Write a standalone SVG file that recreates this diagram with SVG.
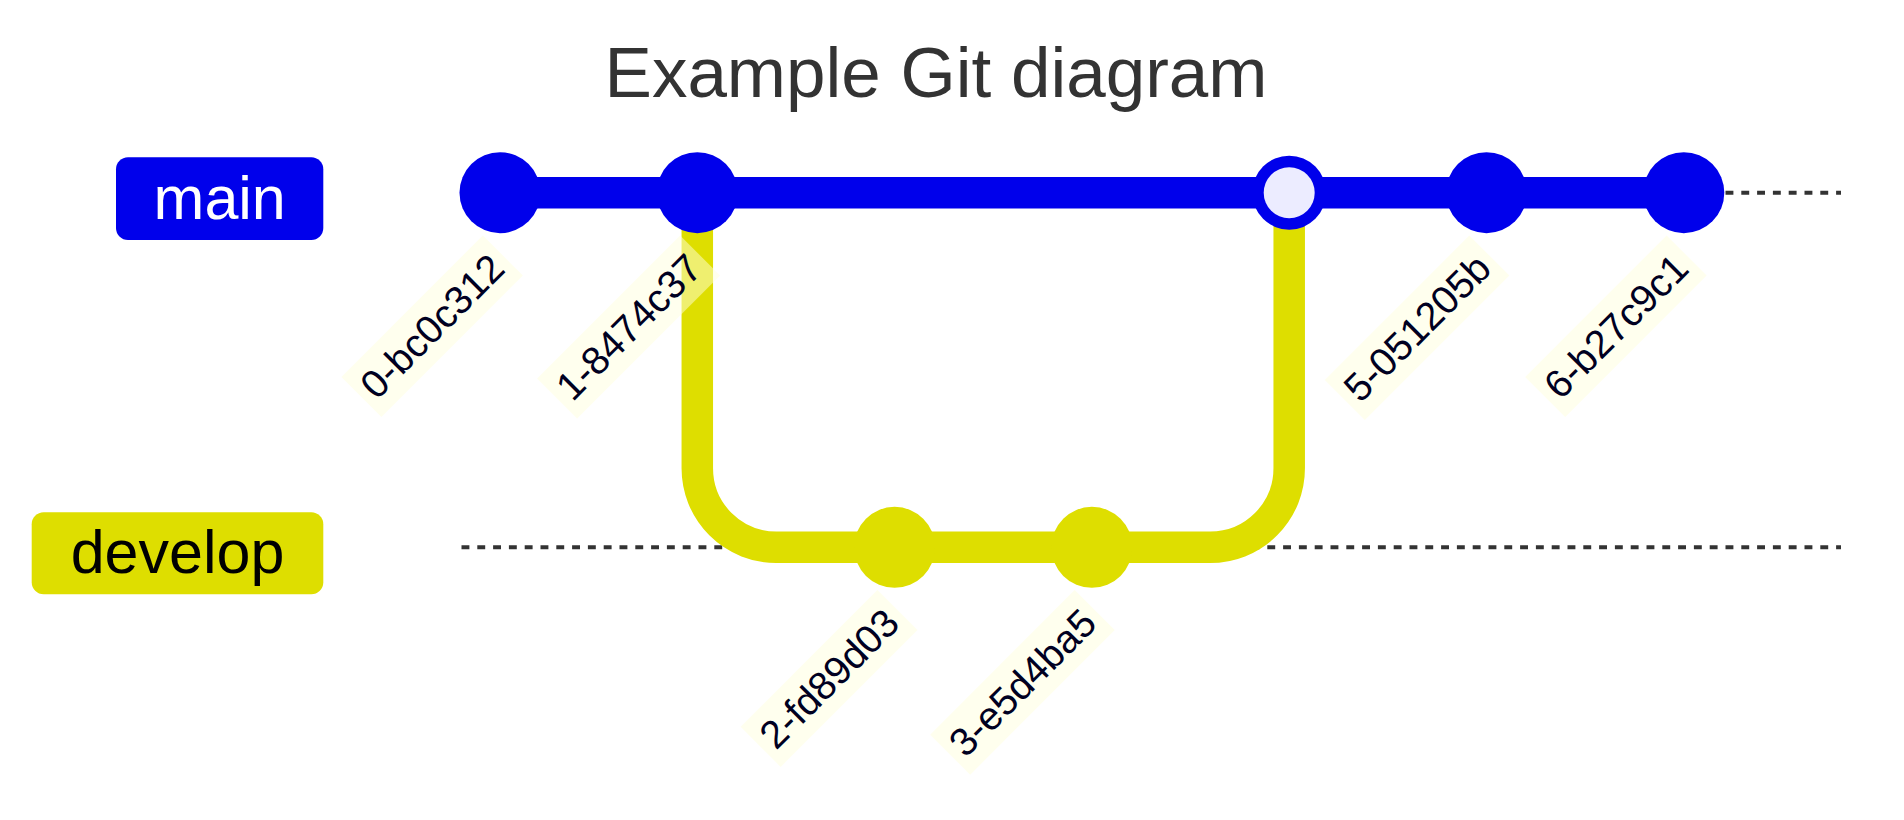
<svg xmlns="http://www.w3.org/2000/svg" width="1904" height="820" viewBox="0 0 1904 820">
<style>
  .title { font-family: "Liberation Sans", Arial, sans-serif; font-size: 71px; fill: #333333; }
  .branch-label { font-family: "Liberation Sans", Arial, sans-serif; font-size: 61px; text-anchor: middle; }
  .dash { stroke: #333333; stroke-width: 4; stroke-dasharray: 7.9 7.9; fill: none; }
  .main-line { stroke: #0000EB; stroke-width: 31.5; fill: none; }
  .dev-line { stroke: #DEDE00; stroke-width: 31.5; fill: none; }
  .c-main { fill: #0000EB; }
  .c-dev { fill: #DEDE00; }
  .c-merge-in { fill: #ECECFF; }
  .lbl-bg { fill: #FFFFDE; opacity: 0.5; }
  .lbl { font-family: "Liberation Sans", Arial, sans-serif; font-size: 39.4px; fill: #000021; text-anchor: middle; }
</style>
<rect x="0" y="0" width="1904" height="820" fill="#FFFFFF"/>
<text class="title" x="936" y="97" text-anchor="middle">Example Git diagram</text>

<g id="branch-main">
  <rect x="116" y="157.3" width="207.3" height="82.7" rx="12" fill="#0000EB"/>
  <text class="branch-label" x="219.7" y="219.3" fill="#FFFFFF">main</text>
</g>
<g id="branch-develop">
  <rect x="31.7" y="512.3" width="291.6" height="82" rx="12" fill="#DEDE00"/>
  <text class="branch-label" x="177.5" y="572.7" fill="#000000">develop</text>
</g>

<g id="branch-lines">
  <line class="dash" x1="461.5" y1="192.7" x2="1841" y2="192.7"/>
  <line class="dash" x1="461.5" y1="547.3" x2="1841" y2="547.3"/>
</g>

<g id="connectors">
  <path class="dev-line" d="M697.3,192.7 L697.3,468.3 A79,79 0 0,0 776.3,547.3 L894.6,547.3"/>
  <path class="dev-line" d="M894.6,547.3 L1091.9,547.3"/>
  <path class="dev-line" d="M1091.9,547.3 L1210.2,547.3 A79,79 0 0,0 1289.2,468.3 L1289.2,192.7"/>
  <path class="main-line" d="M500,192.7 L697.3,192.7"/>
  <path class="main-line" d="M697.3,192.7 L1289.2,192.7"/>
  <path class="main-line" d="M1289.2,192.7 L1486.5,192.7"/>
  <path class="main-line" d="M1486.5,192.7 L1683.8,192.7"/>
</g>

<g id="commit-0"><circle class="c-main" cx="500" cy="192.7" r="40.5"/></g>
<g id="commit-1"><circle class="c-main" cx="697.3" cy="192.7" r="40.5"/></g>
<g id="commit-2"><circle class="c-dev" cx="894.6" cy="547.3" r="40.5"/></g>
<g id="commit-3"><circle class="c-dev" cx="1091.9" cy="547.3" r="40.5"/></g>
<g id="commit-4">
  <circle class="c-main" cx="1289.2" cy="192.7" r="37"/>
  <circle class="c-merge-in" cx="1289.2" cy="192.7" r="25.5"/>
</g>
<g id="commit-5"><circle class="c-main" cx="1486.5" cy="192.7" r="40.5"/></g>
<g id="commit-6"><circle class="c-main" cx="1683.8" cy="192.7" r="40.5"/></g>

<g id="label-0" transform="translate(482.8,235.5) rotate(-45)">
  <rect class="lbl-bg" x="-200" y="0" width="200" height="56.6"/>
  <text class="lbl" x="-100" y="42">0-bc0c312</text>
</g>
<g id="label-1" transform="translate(680.1,235.5) rotate(-45)">
  <rect class="lbl-bg" x="-202.2" y="0" width="202.2" height="56.6"/>
  <text class="lbl" x="-101.1" y="42">1-8474c37</text>
</g>
<g id="label-2" transform="translate(877.4,590.1) rotate(-45)">
  <rect class="lbl-bg" x="-193.4" y="0" width="193.4" height="56.6"/>
  <text class="lbl" x="-96.7" y="42">2-fd89d03</text>
</g>
<g id="label-3" transform="translate(1074.7,590.1) rotate(-45)">
  <rect class="lbl-bg" x="-204.4" y="0" width="204.4" height="56.6"/>
  <text class="lbl" x="-102.2" y="42">3-e5d4ba5</text>
</g>
<g id="label-5" transform="translate(1469.3,235.5) rotate(-45)">
  <rect class="lbl-bg" x="-204.4" y="0" width="204.4" height="56.6"/>
  <text class="lbl" x="-102.2" y="42">5-051205b</text>
</g>
<g id="label-6" transform="translate(1666.6,235.5) rotate(-45)">
  <rect class="lbl-bg" x="-200" y="0" width="200" height="56.6"/>
  <text class="lbl" x="-100" y="42">6-b27c9c1</text>
</g>
</svg>
